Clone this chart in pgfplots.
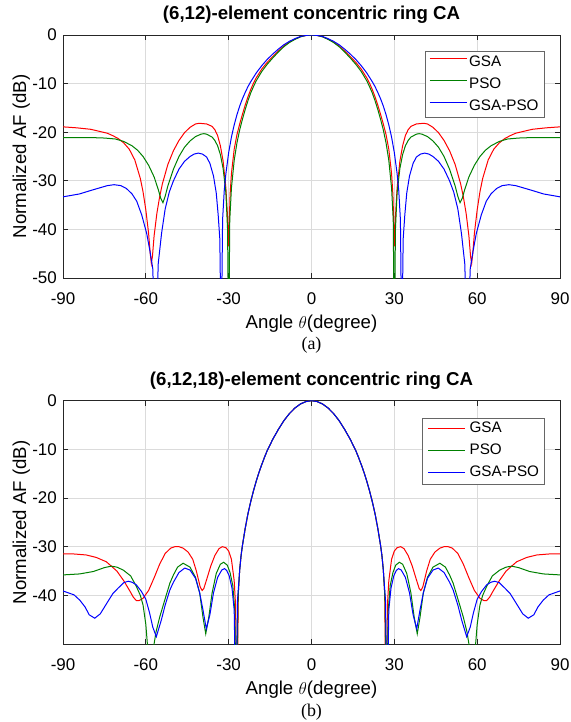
\documentclass[border=0pt]{standalone}
\usepackage{fontspec}
\setmainfont{Liberation Sans}
\newfontfamily\capfont{Liberation Serif}
\usepackage{pgfplots}
\usepackage{pgfplotstable}
\pgfplotsset{compat=1.18}
\definecolor{mred}{RGB}{255,0,0}
\definecolor{mgreen}{RGB}{0,128,0}
\definecolor{mblue}{RGB}{0,0,255}

% patterns are symmetric: only theta >= 0 is stored, the other half is mirrored
%% (6,12) ring
\pgfplotstableread{
t db
0 0
2 -0.1
4 -0.35
6 -0.85
8 -1.45
10 -2.25
12 -3.3
14 -4.4
16 -5.6
18 -7.0
20 -8.8
21 -9.9
22 -11.2
23 -12.7
24 -14.4
25 -16.3
26 -18.3
27 -20.5
28 -23.5
29 -28.5
29.5 -33
30 -43.5
30.4 -37.5
31 -31.5
32 -26.0
33 -22.8
34 -20.7
35 -19.5
36 -18.8
38 -18.3
40 -18.2
41 -18.2
42 -18.3
44 -19.0
46 -20.1
48 -21.7
50 -23.8
52 -26.6
54 -30.6
55 -33.3
56 -36.7
57 -41.3
57.6 -45.5
58 -47.0
58.4 -45
59 -40.8
60 -36.0
61 -32.3
62 -29.5
64 -25.7
66 -23.5
68 -22.2
70 -21.3
72 -20.7
74 -20.2
77 -19.8
80 -19.4
85 -19.1
90 -18.9
}\topGSA

\pgfplotstableread{
t db
0 0
2 -0.1
4 -0.38
6 -0.9
8 -1.55
10 -2.4
12 -3.5
14 -4.7
16 -6.0
18 -7.5
20 -9.4
21 -10.6
22 -11.9
23 -13.5
24 -15.3
25 -17.3
26 -19.5
27 -22.2
28 -25.8
29 -31.5
29.6 -38
30.0 -65
30.4 -40
31 -32.5
32 -27.5
33 -24.6
34 -22.8
35 -21.7
36 -21.0
38 -20.4
39 -20.3
40 -20.4
42 -20.9
44 -21.8
46 -23.1
48 -25.0
50 -27.6
52 -31.0
53 -33.2
53.8 -34.5
54.6 -33.6
55.5 -31.8
57 -29.2
59 -26.8
61 -25.0
63 -23.7
65 -22.8
68 -21.9
71 -21.4
75 -21.2
80 -21.1
90 -21.1
}\topPSO

\pgfplotstableread{
t db
0 0
2 -0.08
4 -0.3
6 -0.75
8 -1.3
10 -2.0
12 -2.9
14 -3.9
16 -5.0
18 -6.3
20 -7.8
22 -9.6
23 -10.6
24 -11.8
25 -13.1
26 -14.6
27 -16.4
28 -18.5
29 -21.0
30 -24.2
31 -28.5
31.6 -32
32.2 -38
32.7 -65
33.2 -42
33.8 -37
34.5 -32.5
35.5 -29
36.8 -26.4
38 -25.1
39.5 -24.5
41 -24.3
42.5 -24.5
44 -25
46 -26.0
48 -27.6
50 -30.0
51.5 -32.3
53 -35.8
54.3 -40.8
55.5 -47
56.5 -65
57.5 -48
58.5 -44.5
59.7 -40.8
61.5 -37.0
63.3 -34.2
65 -32.7
67 -31.6
69 -31.0
71.5 -30.8
74 -31.0
77 -31.5
80 -32.0
84 -32.7
90 -33.3
}\topHYB

%% (6,12,18) ring
\pgfplotstableread{
t db
0 0
2 -0.17
4 -0.67
6 -1.5
8 -2.65
10 -4.1
12 -5.9
14 -7.9
16 -10.2
17 -11.6
18 -13.1
19 -14.7
20 -16.5
21 -18.5
22 -20.7
23 -23.2
24 -26.2
25 -29.7
25.5 -31.8
26 -34.6
26.5 -39.5
27.0 -65
27.5 -42
28 -37
29 -32.6
30 -30.9
31 -30.2
32.3 -30.0
33.5 -30.4
35 -31.8
36.5 -34.0
38 -36.8
39 -38.6
39.6 -39.0
40.3 -38.3
41.7 -35.0
43 -32.6
44.7 -31.1
46.5 -30.3
48 -30.0
49.5 -30.0
51 -30.3
53 -31.4
55 -33.6
57 -36.4
59 -39.0
61 -40.6
62.5 -41.1
63.4 -41.1
64.5 -40.4
66 -38.9
68 -37.0
70.5 -35.0
74.3 -33.1
78 -32.2
81.6 -31.7
86 -31.5
90 -31.5
}\botGSA

\pgfplotstableread{
t db
0 0
2 -0.17
4 -0.67
6 -1.5
8 -2.65
10 -4.1
12 -5.9
14 -7.9
16 -10.2
17 -11.6
18 -13.1
19 -14.7
20 -16.5
21 -18.5
22 -20.7
23 -23.2
24 -26.2
25 -29.7
25.5 -31.8
26 -34.7
26.6 -40.5
27.2 -65
27.8 -43
28.5 -38
29.5 -35.3
30.5 -33.8
31.8 -33.2
33 -33.6
34.5 -35.5
36 -39.5
37.2 -44.5
38.3 -47.9
39.3 -44.5
40.5 -39.5
42 -36.3
44 -34.2
46.5 -33.4
48.5 -34.2
50 -35.8
51.3 -37.5
53 -40.7
55 -44.5
56.3 -47.5
57.3 -51
58.3 -65
59.3 -51
60 -46
61 -42
62 -40
63.4 -38.2
65.5 -36.0
68.2 -34.8
70.5 -34.2
72.5 -34.0
75 -34.3
79 -35.1
84 -35.6
90 -35.8
}\botPSO

\pgfplotstableread{
t db
0 0
2 -0.17
4 -0.67
6 -1.5
8 -2.65
10 -4.1
12 -5.9
14 -7.9
16 -10.2
17 -11.6
18 -13.1
19 -14.7
20 -16.5
21 -18.5
22 -20.7
23 -23.2
24 -26.2
25 -29.7
25.5 -31.8
26 -34.8
26.8 -41
27.4 -65
28 -43
28.8 -38.5
29.8 -36.0
30.7 -34.9
31.5 -34.5
32.5 -34.8
34 -36.3
35.5 -39.5
36.8 -44
38.1 -46.9
39.3 -43
40.5 -39.5
42 -36.5
44 -34.8
45.9 -34.4
48 -35.3
50 -37.3
51.3 -38.9
53 -42.0
54.4 -45.1
56.2 -48.5
57.5 -46.5
58.6 -43.7
60 -40.8
61.6 -39.2
63.5 -37.8
65 -37.3
66.4 -37.1
68 -37.4
70 -38.5
71.9 -39.6
74 -41.5
76.5 -43.8
78.5 -44.7
80.5 -44
82 -42.4
83.9 -41.0
86 -39.9
90 -39.1
}\botHYB

\newcommand{\legfont}{\fontsize{15.3}{18}\selectfont}

\pgfplotsset{
  legend image code/.code={\draw[#1] (0bp,4bp) -- (37bp,4bp);},
  afplot/.style={
    scale only axis,
    width=497bp,
    xmin=-90, xmax=90, ymin=-50, ymax=0,
    clip mode=individual,
    xtick={-90,-60,-30,0,30,60,90},
    xticklabels={-90,-60,-30,0,30,60,90},
    grid=major,
    grid style={gray!28, line width=0.8bp},
    tick align=inside,
    major tick length=5bp,
    axis line style={black!85, line width=0.8bp},
    tick style={black!85, line width=0.7bp},
    tick label style={font=\fontsize{17}{20}\selectfont},
    xticklabel style={anchor=base, inner sep=0pt, yshift=-26bp},
    yticklabel style={anchor=east, inner sep=0pt, xshift=-6bp},
    xlabel={Angle $\theta$(degree)},
    ylabel={Normalized AF (dB)},
    label style={font=\fontsize{18.7}{22}\selectfont},
    xlabel style={at={(axis description cs:0.5,-0.206)}, anchor=base, inner sep=0pt},
    ylabel style={at={(axis description cs:-0.0744,0.5)}, anchor=base, inner sep=0pt},
    title style={font=\fontsize{18.7}{22}\selectfont\bfseries,
                 at={(axis description cs:0.5,1.04)}, anchor=base, inner sep=0pt},
    legend cell align=left,
    legend style={anchor=north east, draw=black!60, line width=0.9bp, fill=white,
                  font=\legfont,
                  inner xsep=4bp, inner ysep=4bp, row sep=8bp,
                  nodes={inner xsep=2bp, inner ysep=0bp, text height=11bp, text depth=3bp}},
  },
}

\begin{document}
\begin{tikzpicture}
\useasboundingbox (0,0) rectangle (571bp,-722bp);

\begin{axis}[afplot, at={(63bp,-278bp)}, height=243bp,
    ytick={-50,-40,-30,-20,-10,0},
    yticklabels={-50,-40,-30,-20,-10,0},
    title={(6,12)-element concentric ring CA},
    legend style={at={(0.9698,0.934)}}]
\addplot[mred, line width=1bp] table[x=t, y=db] {\topGSA};
\addlegendentry{GSA}
\addplot[mgreen, line width=1bp] table[x=t, y=db] {\topPSO};
\addlegendentry{PSO}
\addplot[mblue, line width=1bp] table[x=t, y=db] {\topHYB};
\addlegendentry{GSA-PSO}
\addplot[mred, line width=1bp, forget plot] table[x expr=-\thisrow{t}, y=db] {\topGSA};
\addplot[mgreen, line width=1bp, forget plot] table[x expr=-\thisrow{t}, y=db] {\topPSO};
\addplot[mblue, line width=1bp, forget plot] table[x expr=-\thisrow{t}, y=db] {\topHYB};
\node[font=\capfont\fontsize{18}{21}\selectfont, anchor=base, inner sep=0pt]
  at (axis description cs:0.5,-0.296) {(a)};
\end{axis}

% lower panel: legend box drawn by hand
\begin{axis}[afplot, at={(63bp,-644bp)}, height=243.3bp,
    ytick={-40,-30,-20,-10,0},
    yticklabels={-40,-30,-20,-10,0},
    title={(6,12,18)-element concentric ring CA}]
\addplot[mred, line width=1bp, forget plot] table[x=t, y=db] {\botGSA};
\addplot[mgreen, line width=1bp, forget plot] table[x=t, y=db] {\botPSO};
\addplot[mblue, line width=1bp, forget plot] table[x=t, y=db] {\botHYB};
\addplot[mred, line width=1bp, forget plot] table[x expr=-\thisrow{t}, y=db] {\botGSA};
\addplot[mgreen, line width=1bp, forget plot] table[x expr=-\thisrow{t}, y=db] {\botPSO};
\addplot[mblue, line width=1bp, forget plot] table[x expr=-\thisrow{t}, y=db] {\botHYB};
\node[draw=black!60, line width=0.9bp, fill=white, anchor=north east, inner sep=0pt,
      minimum width=121.7bp, minimum height=66bp] (lg) at (axis description cs:0.9698,0.930) {};
\draw[mred, line width=1bp] ([xshift=6bp, yshift=-11bp]lg.north west) -- ++(37bp,0bp);
\draw[mgreen, line width=1bp] ([xshift=6bp, yshift=-33bp]lg.north west) -- ++(37bp,0bp);
\draw[mblue, line width=1bp] ([xshift=6bp, yshift=-55bp]lg.north west) -- ++(37bp,0bp);
\node[font=\legfont, anchor=base west, inner sep=0pt] at ([xshift=47bp, yshift=-15bp]lg.north west) {GSA};
\node[font=\legfont, anchor=base west, inner sep=0pt] at ([xshift=47bp, yshift=-37bp]lg.north west) {PSO};
\node[font=\legfont, anchor=base west, inner sep=0pt] at ([xshift=47bp, yshift=-59bp]lg.north west) {GSA-PSO};
\node[font=\capfont\fontsize{18}{21}\selectfont, anchor=base, inner sep=0pt]
  at (axis description cs:0.5,-0.296) {(b)};
\end{axis}
\end{tikzpicture}
\end{document}
